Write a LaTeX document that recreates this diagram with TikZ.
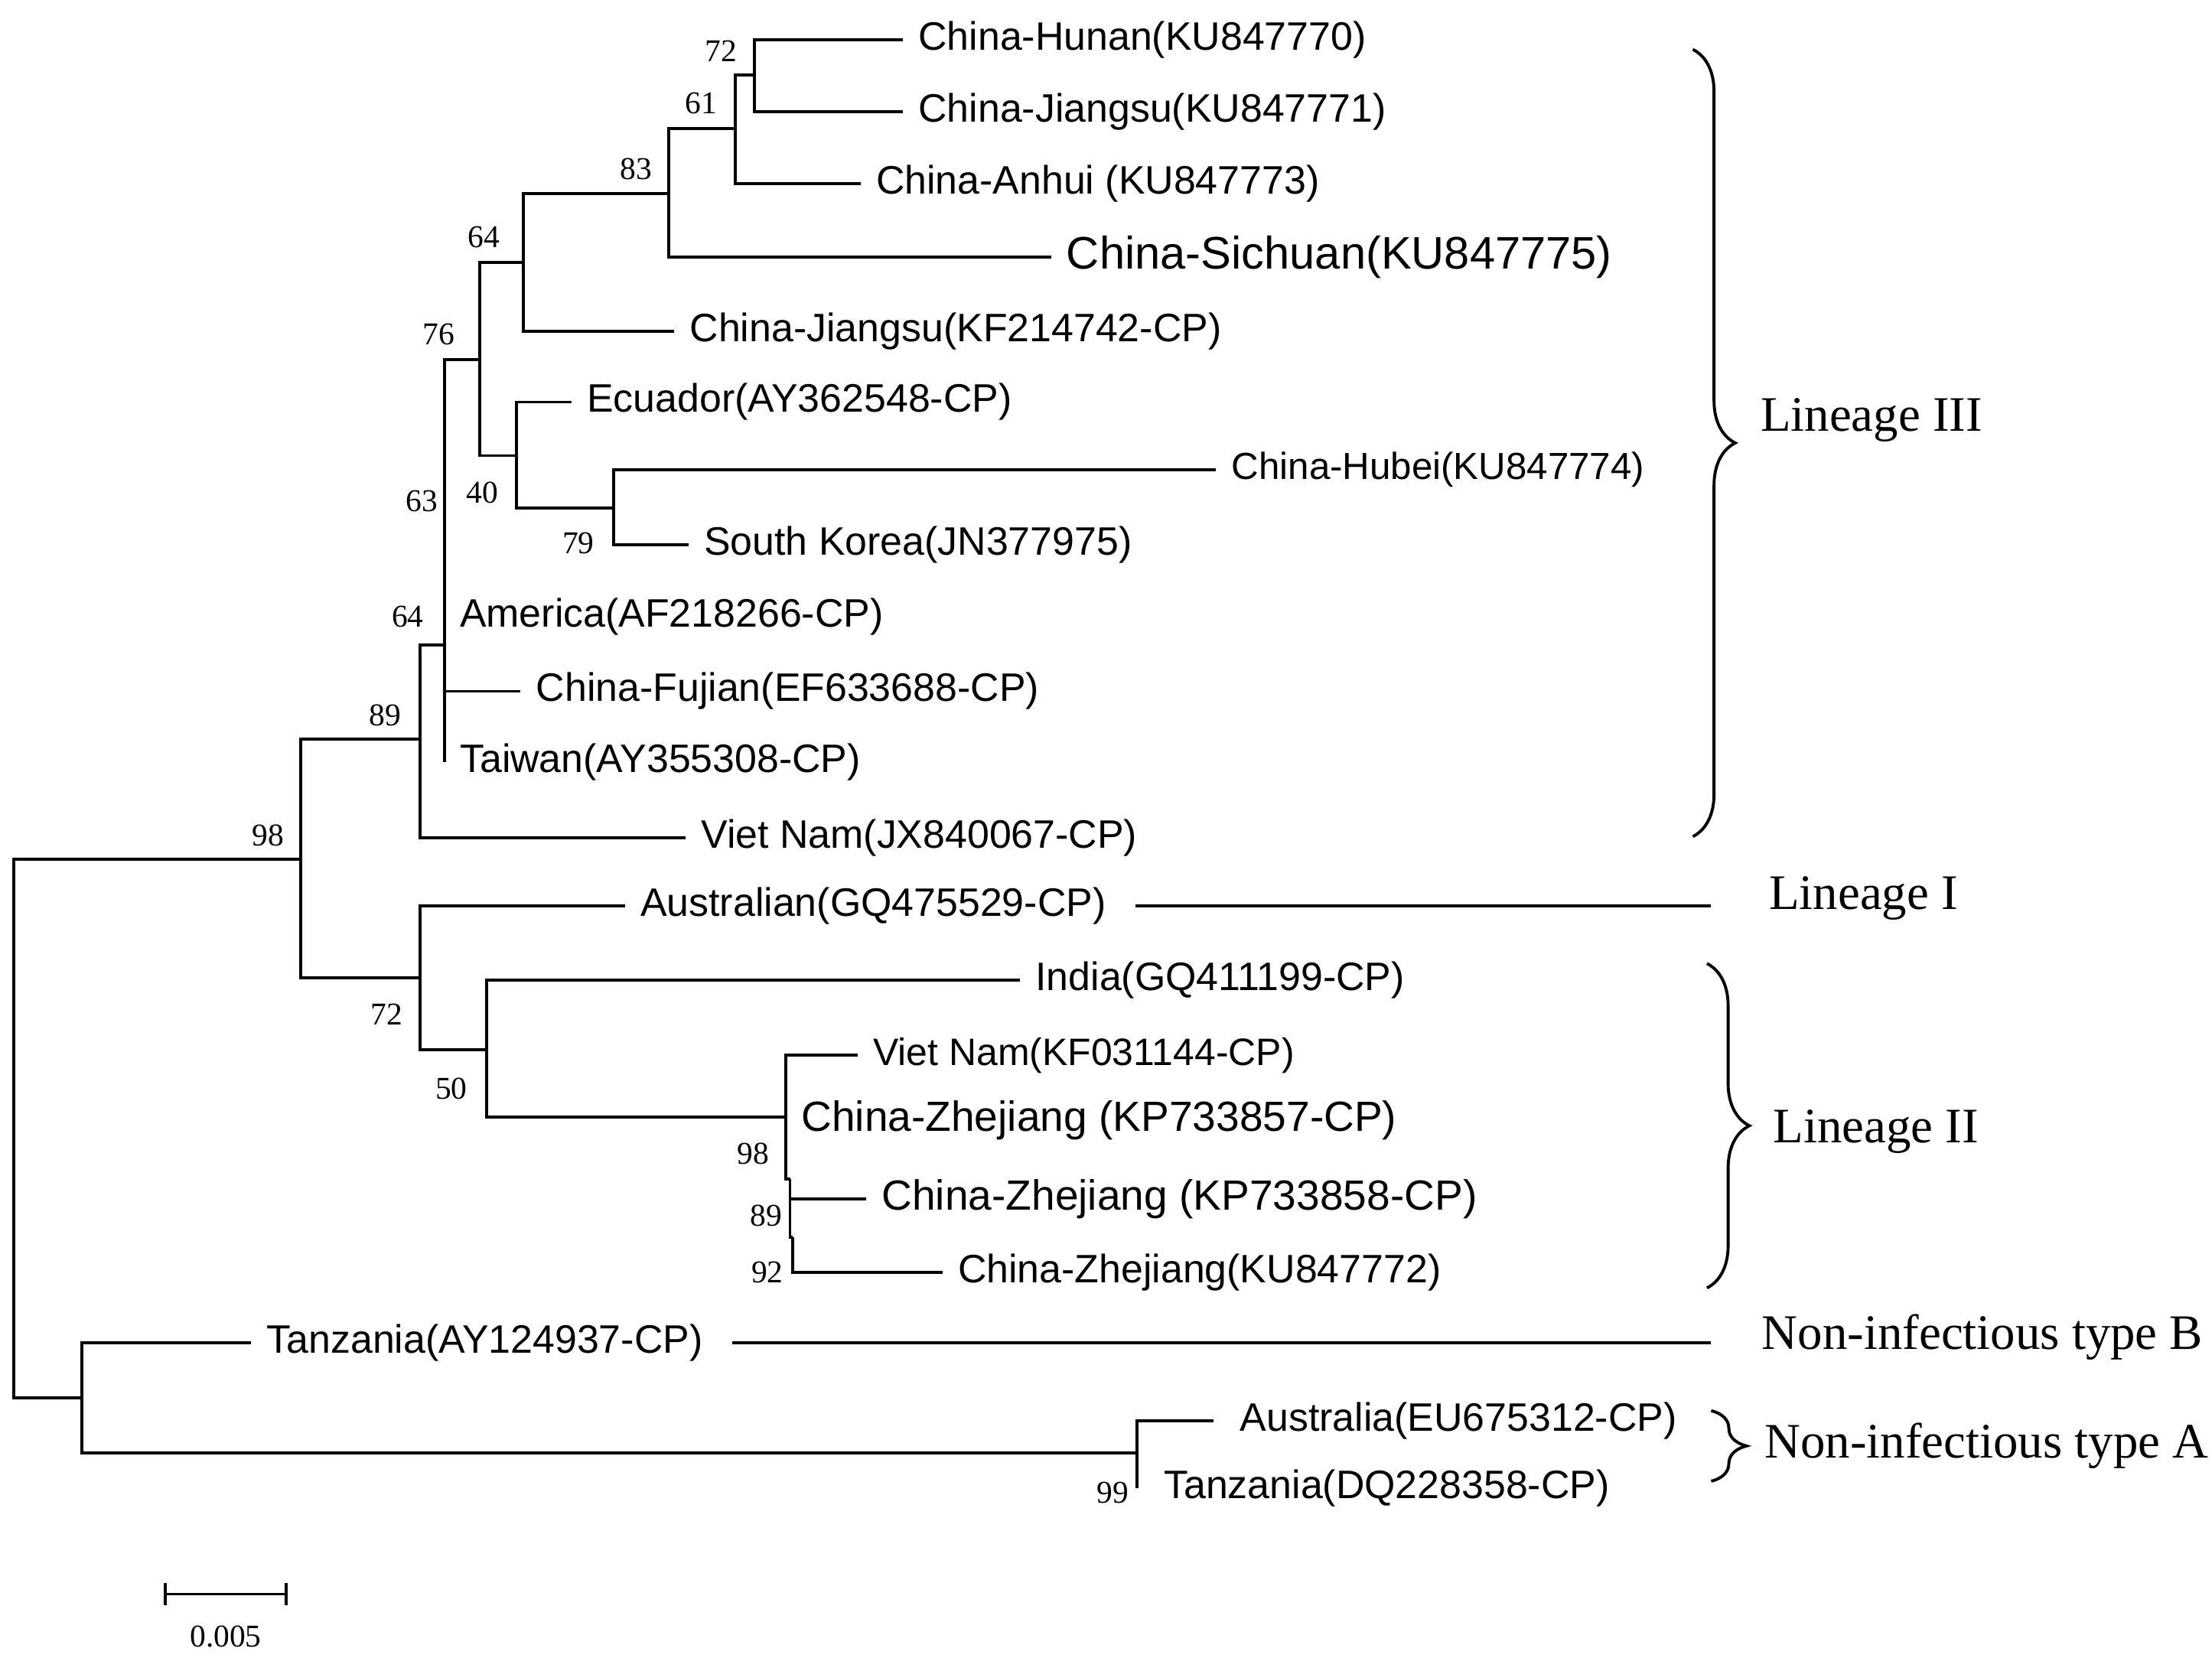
\documentclass[tikz,border=0pt]{standalone}
\usepackage{fontspec}
\setmainfont{Liberation Sans}
\newfontfamily\tnr{Liberation Serif}
\usetikzlibrary{positioning, decorations.pathreplacing}

\begin{document}
\begin{tikzpicture}[x=0.01cm, y=-0.01cm, line width=0.6pt]
\tikzstyle{leaf} = [anchor=west, inner xsep=0.1cm, inner ysep=0pt, font=\fontsize{8}{9}\selectfont]
\tikzstyle{big} = [leaf, font=\fontsize{8.5}{10}\selectfont]
\tikzstyle{boot} = [inner sep=0pt, font=\tnr\fontsize{6.4}{7}\selectfont]
\tikzstyle{lin} = [anchor=west, inner sep=0pt, font=\tnr\fontsize{10}{12}\selectfont]
\tikzstyle{brace} = [decorate, decoration={brace, amplitude=0.3cm}]
\useasboundingbox (0,0) rectangle (1568,1175);

% leaves
\node (hunan) [leaf] at (640,28) {China-Hunan(KU847770)};
\node (jsku) [leaf] at (640,79) {China-Jiangsu(KU847771)};
\node (anhui) [leaf] at (610,130) {China-Anhui (KU847773)};
\node (sichuan) [leaf, font=\fontsize{9.2}{11}\selectfont] at (745,182) {China-Sichuan(KU847775)};
\node (jskf) [leaf] at (478,235) {China-Jiangsu(KF214742-CP)};
\node (ecuador) [leaf] at (405,285) {Ecuador(AY362548-CP)};
\node (hubei) [leaf, font=\fontsize{7.6}{9}\selectfont] at (862,333) {China-Hubei(KU847774)};
\node (korea) [leaf] at (488,386) {South Korea(JN377975)};
\node (america) [leaf] at (315,437) {America(AF218266-CP)};
\node (fujian) [leaf] at (369,490) {China-Fujian(EF633688-CP)};
\node (taiwan) [leaf] at (315,540) {Taiwan(AY355308-CP)};
\node (vnjx) [leaf] at (486,594) {Viet Nam(JX840067-CP)};
\node (austn) [leaf] at (443,642) {Australian(GQ475529-CP)};
\node (india) [leaf] at (723,695) {India(GQ411199-CP)};
\node (vnkf) [leaf, font=\fontsize{7.7}{9}\selectfont] at (608,748) {Viet Nam(KF031144-CP)};
\node (zj857) [big] at (557,794) {China-Zhejiang (KP733857-CP)};
\node (zj858) [big] at (614,850) {China-Zhejiang (KP733858-CP)};
\node (zj772) [leaf] at (668,902) {China-Zhejiang(KU847772)};
\node (tzay) [leaf] at (178,952) {Tanzania(AY124937-CP)};
\node (aueu) [leaf, inner xsep=0.18cm] at (860,1007) {Australia(EU675312-CP)};
\node (tzdq) [leaf, inner xsep=0.18cm] at (806,1055) {Tanzania(DQ228358-CP)};

% internal nodes
\coordinate (n72) at (535,53);
\coordinate (n61) at (521,91);
\coordinate (n83) at (474,137);
\coordinate (n64) at (371,186);
\coordinate (n79) at (435,360);
\coordinate (n40) at (366,323);
\coordinate (n76) at (340,255);
\coordinate (n63) at (315,457);
\coordinate (n89) at (298,524);
\coordinate (n98) at (213,609);
\coordinate (n72b) at (298,693);
\coordinate (n50) at (345,744);
\coordinate (z98) at (557,792);
\coordinate (z89) at (560,836);
\coordinate (z92) at (562,877);
\coordinate (root) at (10,800);
\coordinate (nb) at (58,991);
\coordinate (na) at (806,1030);

% branches
\draw (hunan.west) -| (n72) |- (jsku.west);
\draw (n72) -| (n61) |- (anhui.west);
\draw (n61) -| (n83) |- (sichuan.west);
\draw (n83) -| (n64) |- (jskf.west);
\draw (hubei.west) -| (n79) |- (korea.west);
\draw (ecuador.west) -| (n40) |- (n79);
\draw (n64) -| (n76) |- (n40);
\draw (n76) -| (n63) |- (taiwan.west);
\draw (n63) |- (fujian.west);
\draw (n63) -| (n89) |- (vnjx.west);
\draw (n89) -| (n98) |- (n72b);
\draw (austn.west) -| (n72b) |- (n50);
\draw (india.west) -| (n50) |- (z98);
\draw (vnkf.west) -| (z98) |- (z89);
\draw (z89) |- (zj858.west);
\draw (z89) |- (z92);
\draw (z92) |- (zj772.west);
\draw (n98) -| (root) |- (nb);
\draw (tzay.west) -| (nb) |- (na);
\draw (aueu.west) -| (na) |- (tzdq.west);

% bootstrap values
\node [boot] at (511,36) {72};
\node [boot] at (497,73) {61};
\node [boot] at (451,120) {83};
\node [boot] at (343,168) {64};
\node [boot] at (311,237) {76};
\node [boot] at (342,349) {40};
\node [boot] at (299,355) {63};
\node [boot] at (410,385) {79};
\node [boot] at (289,437) {64};
\node [boot] at (273,507) {89};
\node [boot] at (190,592) {98};
\node [boot] at (274,719) {72};
\node [boot] at (320,772) {50};
\node [boot] at (534,818) {98};
\node [boot] at (543,862) {89};
\node [boot] at (544,902) {92};
\node [boot] at (789,1058) {99};

% lineages
\node (lin3) [lin] at (1247,298) {Lineage III};
\node (lin1) [lin] at (1253,637) {Lineage I};
\node (lin2) [lin] at (1256,802) {Lineage II};
\node (ntb) [lin] at (1248,948) {Non-infectious type B};
\node (nta) [lin] at (1250,1025) {Non-infectious type A};
\coordinate (b3t) at (1200,35);
\coordinate (b3b) at (1200,593);
\coordinate (b2t) at (1210,683);
\coordinate (b2b) at (1210,913);
\coordinate (bat) at (1213,1000);
\coordinate (bab) at (1213,1050);
\draw [brace] (b3t) -- (b3b);
\draw [brace] (b2t) -- (b2b);
\draw [brace, decoration={amplitude=0.25cm}] (bat) -- (bab);
\draw ([xshift=0.1cm]austn.east) -- ([xshift=-0.4cm]austn.east -| lin1.west);
\draw ([xshift=0.1cm]tzay.east) -- ([xshift=-0.35cm]tzay.east -| ntb.west);

% scale bar
\coordinate (s1) at (117,1130);
\coordinate (s2) at (203,1130);
\draw (s1) -- (s2);
\draw ([yshift=0.08cm]s1) -- ([yshift=-0.08cm]s1);
\draw ([yshift=0.08cm]s2) -- ([yshift=-0.08cm]s2);
\node [boot] at (160,1160) {0.005};
\end{tikzpicture}
\end{document}
